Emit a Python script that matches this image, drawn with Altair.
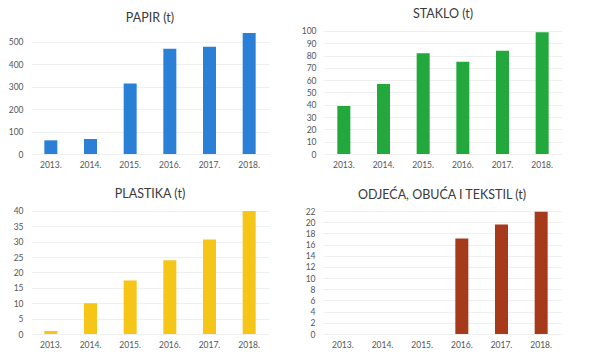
import altair as alt
import pandas as pd

years = ["2013.", "2014.", "2015.", "2016.", "2017.", "2018."]
papir = [61, 67, 314, 469, 478, 540]
staklo = [39, 57, 82, 75, 84, 99]
plastika = [1, 10, 17.4, 24, 30.7, 40]
odjeca = [0, 0, 0, 17.1, 19.6, 21.9]

titles = ["PAPIR (t)", "STAKLO (t)", "PLASTIKA (t)", "ODJEĆA, OBUĆA I TEKSTIL (t)"]
colors = ["#2a7fd6", "#22a83c", "#f5c518", "#a83a1c"]
domain_max = [553, 100.8, 40.3, 22.2]
tick_vals = [list(range(0, 501, 100)), list(range(0, 101, 10)),
             list(range(0, 41, 5)), list(range(0, 23, 2))]
series = [papir, staklo, plastika, odjeca]

FONT = "Lato"


def panel(i):
    df = pd.DataFrame({"year": years, "value": series[i]})
    return (
        alt.Chart(df, title=alt.TitleParams(titles[i], fontSize=12.5, font=FONT,
                                            fontWeight="normal", color="#3a3a3a",
                                            offset=6, anchor="middle"))
        .mark_bar(size=13, color=colors[i])
        .encode(
            x=alt.X("year:N", sort=years, title=None,
                    scale=alt.Scale(paddingInner=0.5, paddingOuter=0.25),
                    axis=alt.Axis(labelAngle=0, ticks=False, domain=False,
                                  labelPadding=6, labelFontSize=8.5,
                                  labelColor="#555555", labelFont=FONT)),
            y=alt.Y("value:Q", title=None,
                    scale=alt.Scale(domain=[0, domain_max[i]], nice=False),
                    axis=alt.Axis(values=tick_vals[i], ticks=False, domain=False,
                                  labelPadding=8, labelFontSize=8.5,
                                  labelColor="#555555", labelFont=FONT,
                                  gridColor="#efefef", minExtent=22, maxExtent=22)),
        )
        .properties(width=238, height=124)
    )


row1 = alt.hconcat(panel(0), panel(1), spacing=32)
row2 = alt.hconcat(panel(2), panel(3), spacing=32)
chart = (
    alt.vconcat(row1, row2, spacing=19)
    .properties(padding=0, background="white")
    .configure_view(stroke=None)
)

chart.save("out.html", embed_options={"renderer": "svg", "actions": False})
